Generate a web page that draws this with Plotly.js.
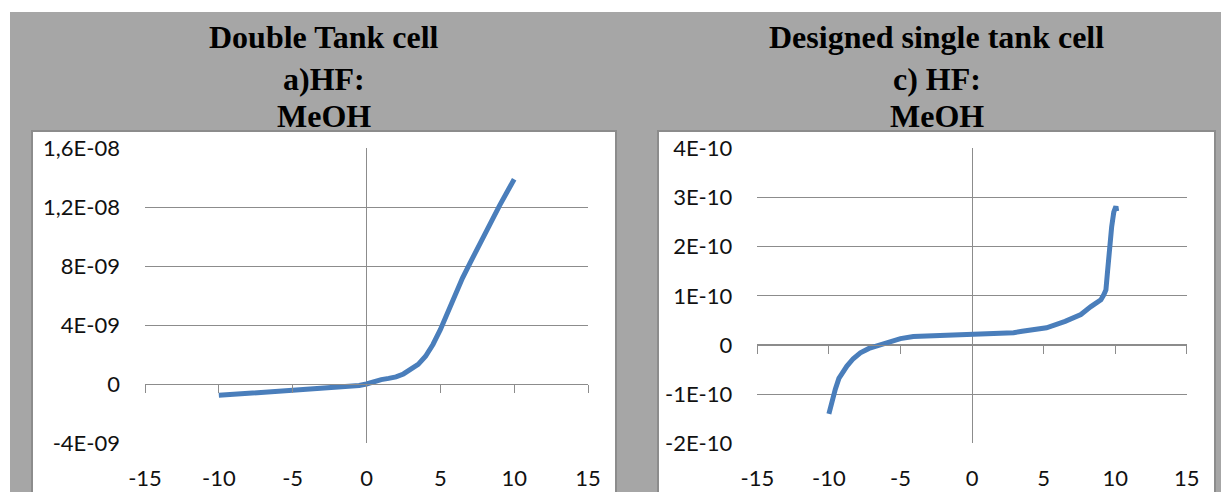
<!DOCTYPE html>
<html>
<head>
<meta charset="utf-8">
<script src="https://cdn.plot.ly/plotly-3.0.1.min.js"></script>
<style>html,body{margin:0;padding:0;background:#fff;}#chart{width:1221px;height:492px;}</style>
</head>
<body>
<div id="chart"></div>
<script>
// ---- data ----
var leftVoltage = [-10,-9,-8,-7,-6,-5,-4,-3,-2,-1,-0.5,0,0.5,1,1.5,2,2.5,3,3.5,4,4.5,5,5.5,6,6.5,7,7.5,8,8.5,9,9.5,10];
var leftCurrent = [-7.5e-10,-6.8e-10,-6.2e-10,-5.3e-10,-4.3e-10,-3.8e-10,-3.3e-10,-2.8e-10,-2.3e-10,-1.5e-10,-0.8e-10,0.2e-10,1.8e-10,3.2e-10,4.0e-10,5.0e-10,7.0e-10,9.8e-10,1.35e-9,1.9e-9,2.7e-9,3.7e-9,4.9e-9,6.1e-9,7.2e-9,8.2e-9,9.2e-9,1.01e-8,1.11e-8,1.21e-8,1.3e-8,1.39e-8];

var rightVoltage = [-10,-9.8,-9.55,-9.3,-9.0,-8.74,-8.3,-7.8,-7.2,-6.4,-5.5,-5,-4.1,-3,-1.5,0,1.5,2.9,3.5,4.5,5.2,6.5,7.6,8.3,9,9.2,9.35,9.45,9.6,9.75,9.9,10.05,10.1];
var rightCurrent = [-1.40e-10,-1.15e-10,-0.9e-10,-0.68e-10,-0.52e-10,-0.43e-10,-0.28e-10,-0.16e-10,-0.07e-10,0,0.08e-10,0.13e-10,0.17e-10,0.18e-10,0.2e-10,0.21e-10,0.22e-10,0.25e-10,0.28e-10,0.32e-10,0.35e-10,0.48e-10,0.62e-10,0.78e-10,0.92e-10,1.02e-10,1.12e-10,1.45e-10,2.0e-10,2.4e-10,2.7e-10,2.82e-10,2.72e-10];

var xTickVals = [-15,-10,-5,0,5,10,15];
var xTickText = ['-15','-10','-5','0','5','10','15'];
var leftYTickVals = [-4e-9,0,4e-9,8e-9,1.2e-8,1.6e-8];
var leftYTickText = ['-4E-09','0','4E-09','8E-09','1,2E-08','1,6E-08'];
var rightYTickVals = [-2e-10,-1e-10,0,1e-10,2e-10,3e-10,4e-10];
var rightYTickText = ['-2E-10','-1E-10','0','1E-10','2E-10','3E-10','4E-10'];

var leftTitle = ['Double Tank cell','a)HF:','MeOH'];
var rightTitle = ['Designed single tank cell','c) HF:','MeOH'];

// ---- layout helpers ----
var W = 1221, H = 492;
function px(v){return v/W;}
function py(v){return 1 - v/H;}
var yDom = [py(443.3), py(148.3)];
var leftXDom = [px(145), px(588)];
var rightXDom = [px(757.3), px(1186.8)];
var lineColor = '#4a7ebb';
var gridC = '#8c8c8c';
var tickFont = {family:'Lato', size:22, color:'#111'};

function zeroPos(range){ return yDom[0] + (0 - range[0])/(range[1]-range[0])*(yDom[1]-yDom[0]); }
var leftYRange = [-4e-9, 1.6e-8];
var rightYRange = [-2e-10, 4e-10];

var traces = [
  {x:leftVoltage, y:leftCurrent, xaxis:'x', yaxis:'y', mode:'lines', line:{color:lineColor, width:5}, hoverinfo:'skip', showlegend:false},
  {x:rightVoltage, y:rightCurrent, xaxis:'x2', yaxis:'y2', mode:'lines', line:{color:lineColor, width:5}, hoverinfo:'skip', showlegend:false},
  {x:[], y:[], xaxis:'x3', yaxis:'y', mode:'lines', showlegend:false, hoverinfo:'skip'},
  {x:[], y:[], xaxis:'x4', yaxis:'y2', mode:'lines', showlegend:false, hoverinfo:'skip'}
];

function mainX(dom, anchor){
  return {domain:dom, anchor:anchor, range:[-15,15], autorange:false, tickvals:xTickVals, ticktext:xTickText,
    showgrid:false, zeroline:true, zerolinecolor:gridC, zerolinewidth:1, showline:false, ticks:'',
    tickfont:tickFont, ticklabelstandoff:20, fixedrange:true};
}
function zeroX(overlay, anchorY, pos){
  return {overlaying:overlay, anchor:'free', position:pos, range:[-15,15], autorange:false, tickvals:xTickVals,
    showticklabels:false, showgrid:false, zeroline:false, showline:true, linecolor:gridC, linewidth:1,
    ticks:'outside', ticklen:8, tickwidth:1, tickcolor:gridC, fixedrange:true};
}
function mainY(range, vals, text, anchor){
  return {domain:yDom, anchor:anchor, range:range, autorange:false, tickvals:vals, ticktext:text,
    showgrid:true, gridcolor:gridC, gridwidth:1, zeroline:false, showline:false, ticks:'',
    tickfont:tickFont, ticklabelstandoff:24, fixedrange:true};
}

var titleFont = {family:'Liberation Serif', size:32, color:'#000', weight:'bold'};
var titleY = [36.8, 78.5, 115.5];
var annotations = [];
[[leftTitle, 324],[rightTitle, 936.5]].forEach(function(p){
  p[0].forEach(function(t,i){
    annotations.push({text:t, xref:'paper', yref:'paper', x:px(p[1]), y:py(titleY[i]), xanchor:'center', yanchor:'middle', showarrow:false, font:titleFont});
  });
});

var layout = {
  width:W, height:H, margin:{l:0,r:0,t:0,b:0,pad:0},
  paper_bgcolor:'#ffffff', plot_bgcolor:'rgba(0,0,0,0)', showlegend:false,
  xaxis: mainX(leftXDom, 'y'),
  yaxis: mainY(leftYRange, leftYTickVals, leftYTickText, 'x'),
  xaxis2: mainX(rightXDom, 'y2'),
  yaxis2: mainY(rightYRange, rightYTickVals, rightYTickText, 'x2'),
  xaxis3: zeroX('x', 'y', zeroPos(leftYRange)),
  xaxis4: zeroX('x2', 'y2', zeroPos(rightYRange)),
  shapes:[
    {type:'rect', xref:'paper', yref:'paper', x0:px(10), x1:1.01, y0:-0.02, y1:py(12), fillcolor:'#a6a6a6', line:{width:0}, layer:'below'},
    {type:'rect', xref:'paper', yref:'paper', x0:px(32), x1:px(616), y0:-0.05, y1:py(131), fillcolor:'#ffffff', line:{color:'#8c8c8c', width:2}, layer:'below'},
    {type:'rect', xref:'paper', yref:'paper', x0:px(658), x1:px(1215), y0:-0.05, y1:py(131), fillcolor:'#ffffff', line:{color:'#8c8c8c', width:2}, layer:'below'}
  ],
  annotations:annotations
};

Plotly.newPlot('chart', traces, layout, {staticPlot:true, displayModeBar:false});
</script>
</body>
</html>
